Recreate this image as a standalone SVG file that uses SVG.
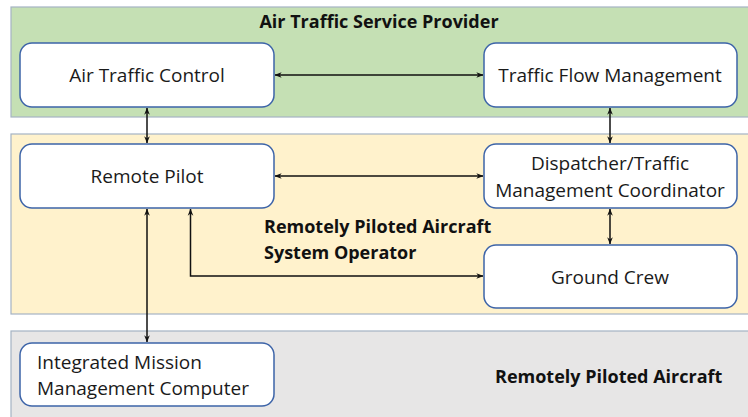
<svg xmlns="http://www.w3.org/2000/svg" width="748" height="417" viewBox="0 0 748 417">
<style>
.panel{stroke:#a5b3c3;stroke-width:1.2}
.box{fill:#fff;stroke:#3d64a8;stroke-width:1.5}
.t{font-family:"Open Sans","Liberation Sans",sans-serif;font-size:19px;fill:#1a1a1a}
.b{font-family:"Open Sans","Liberation Sans",sans-serif;font-size:18px;font-weight:bold;fill:#111}
.c{text-anchor:middle}
.ln{fill:none;stroke:#111;stroke-width:1.5}
</style>
<defs>
<marker id="ah" viewBox="0 0 10 10" refX="9.5" refY="5" markerWidth="7" markerHeight="7" markerUnits="userSpaceOnUse" orient="auto-start-reverse">
<path d="M0,1 L10,5 L0,9 L3,5 Z" fill="#111"/>
</marker>
</defs>
<rect width="748" height="417" fill="#fff"/>
<g id="panels">
<rect class="panel" x="11" y="7" width="745" height="110" fill="#c5e0b4"/>
<rect class="panel" x="11" y="134" width="745" height="180" fill="#fff2cc"/>
<rect class="panel" x="11" y="331" width="745" height="100" fill="#e7e6e6"/>
<text class="b c" x="379" y="28">Air Traffic Service Provider</text>
<text class="b" x="264" y="233">Remotely Piloted Aircraft</text>
<text class="b" x="264" y="259">System Operator</text>
<text class="b" x="495" y="383">Remotely Piloted Aircraft</text>
</g>
<g id="connectors">
<line class="ln" x1="275" y1="75" x2="483" y2="75" marker-start="url(#ah)" marker-end="url(#ah)"/>
<line class="ln" x1="147" y1="108" x2="147" y2="143" marker-start="url(#ah)" marker-end="url(#ah)"/>
<line class="ln" x1="610" y1="108" x2="610" y2="143" marker-start="url(#ah)" marker-end="url(#ah)"/>
<line class="ln" x1="275" y1="176" x2="483" y2="176" marker-start="url(#ah)" marker-end="url(#ah)"/>
<line class="ln" x1="610" y1="209" x2="610" y2="244" marker-start="url(#ah)" marker-end="url(#ah)"/>
<polyline class="ln" points="190.5,209 190.5,276 483,276" marker-start="url(#ah)" marker-end="url(#ah)"/>
<line class="ln" x1="147" y1="209" x2="147" y2="342" marker-start="url(#ah)" marker-end="url(#ah)"/>
</g>
<g id="atc">
<rect class="box" x="20" y="43" width="254" height="64" rx="12"/>
<text class="t c" x="147" y="82">Air Traffic Control</text>
</g>
<g id="tfm">
<rect class="box" x="484" y="43" width="253" height="64" rx="12"/>
<text class="t c" x="610" y="82">Traffic Flow Management</text>
</g>
<g id="rp">
<rect class="box" x="20" y="144" width="254" height="64" rx="12"/>
<text class="t c" x="147" y="183">Remote Pilot</text>
</g>
<g id="disp">
<rect class="box" x="484" y="144" width="253" height="64" rx="12"/>
<text class="t c" x="610" y="170">Dispatcher/Traffic</text>
<text class="t c" x="610" y="197">Management Coordinator</text>
</g>
<g id="gc">
<rect class="box" x="484" y="245" width="253" height="63" rx="12"/>
<text class="t c" x="610" y="284">Ground Crew</text>
</g>
<g id="immc">
<rect class="box" x="20" y="343" width="254" height="63" rx="12"/>
<text class="t" x="37" y="369">Integrated Mission</text>
<text class="t" x="37" y="395">Management Computer</text>
</g>
</svg>
